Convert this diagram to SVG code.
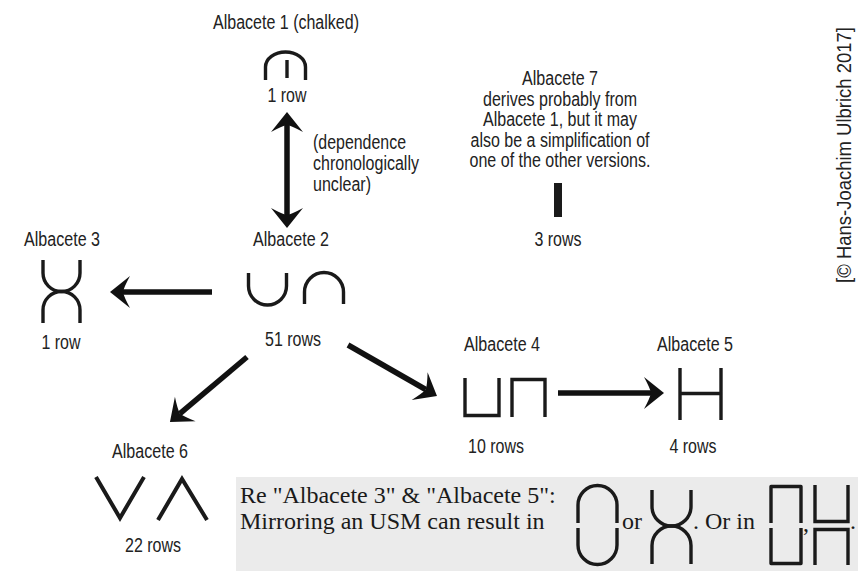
<svg xmlns="http://www.w3.org/2000/svg" width="864" height="573" viewBox="0 0 864 573">
<style>
.lbl{font-family:'Liberation Sans',Arial,sans-serif;font-size:19.5px;fill:#222;text-anchor:middle}
.left{text-anchor:start}
.ser{font-family:'Liberation Serif','Times New Roman',serif;font-size:24px;fill:#1a1a1a}
.g{fill:none;stroke:#1a1a1a;stroke-width:3.4;stroke-linecap:butt}
.g6{fill:none;stroke:#1a1a1a;stroke-width:4;stroke-linejoin:miter}
.arr{fill:none;stroke:#111;stroke-width:5.5;marker-end:url(#ah)}
</style>
<defs>
<marker id="ah" markerUnits="userSpaceOnUse" markerWidth="20" markerHeight="32" viewBox="0 0 20 32" refX="7" refY="16" orient="auto-start-reverse" overflow="visible">
<path d="M20,16 L0,0 Q6,11 7,16 Q6,21 0,32 Z" fill="#111"/>
</marker>
</defs>
<rect x="236" y="477" width="622" height="94" fill="#ebebeb"/>

<g id="albacete1">
<text class="lbl" x="286" y="29" textLength="146" lengthAdjust="spacingAndGlyphs">Albacete 1 (chalked)</text>
<path class="g" d="M265.5,80 V67 A20 15 0 0 1 305.5,67 V80"/>
<path class="g" d="M287,60 V78"/>
<text class="lbl" x="287" y="102" textLength="39" lengthAdjust="spacingAndGlyphs">1 row</text>
</g>

<g id="note-dependence">
<text class="lbl left" x="313" y="149" textLength="93" lengthAdjust="spacingAndGlyphs">(dependence</text>
<text class="lbl left" x="313" y="170" textLength="106" lengthAdjust="spacingAndGlyphs">chronologically</text>
<text class="lbl left" x="313" y="191" textLength="58" lengthAdjust="spacingAndGlyphs">unclear)</text>
</g>

<g id="albacete7">
<text class="lbl" x="560" y="85" textLength="76" lengthAdjust="spacingAndGlyphs">Albacete 7</text>
<text class="lbl" x="560" y="105.5" textLength="154" lengthAdjust="spacingAndGlyphs">derives probably from</text>
<text class="lbl" x="560" y="126" textLength="154" lengthAdjust="spacingAndGlyphs">Albacete 1, but it may</text>
<text class="lbl" x="560" y="146.5" textLength="179" lengthAdjust="spacingAndGlyphs">also be a simplification of</text>
<text class="lbl" x="560" y="167" textLength="181" lengthAdjust="spacingAndGlyphs">one of the other versions.</text>
<rect x="554" y="183" width="8" height="34" fill="#1a1a1a"/>
<text class="lbl" x="558" y="246" textLength="47" lengthAdjust="spacingAndGlyphs">3 rows</text>
</g>

<g id="copyright">
<text class="lbl" transform="translate(851,155) rotate(-90)" textLength="256" lengthAdjust="spacingAndGlyphs" style="font-size:20px">[© Hans-Joachim Ulbrich 2017]</text>
</g>

<g id="albacete3">
<text class="lbl" x="62" y="246" textLength="76" lengthAdjust="spacingAndGlyphs">Albacete 3</text>
<path class="g" d="M43,260 V273 A18.5 18.5 0 0 0 80,273 V260"/>
<path class="g" d="M43,323 V310 A18.5 18.5 0 0 1 80,310 V323"/>
<text class="lbl" x="61" y="349" textLength="39" lengthAdjust="spacingAndGlyphs">1 row</text>
</g>

<g id="albacete2">
<text class="lbl" x="291" y="246" textLength="76" lengthAdjust="spacingAndGlyphs">Albacete 2</text>
<path class="g" d="M248.5,273 V286 A19 19 0 0 0 286.5,286 V273"/>
<path class="g" d="M304.5,304 V292 A19.5 19.5 0 0 1 343.5,292 V304"/>
<text class="lbl" x="293" y="346" textLength="56" lengthAdjust="spacingAndGlyphs">51 rows</text>
</g>

<g id="albacete4">
<text class="lbl" x="502" y="351" textLength="76" lengthAdjust="spacingAndGlyphs">Albacete 4</text>
<path class="g" d="M465,378 V415.5 H499 V378"/>
<path class="g" d="M512,417 V379.5 H545 V417"/>
<text class="lbl" x="496" y="453" textLength="56" lengthAdjust="spacingAndGlyphs">10 rows</text>
</g>

<g id="albacete5">
<text class="lbl" x="695" y="351" textLength="76" lengthAdjust="spacingAndGlyphs">Albacete 5</text>
<path class="g" d="M680,368 V420 M721,368 V420 M680,393.5 H721"/>
<text class="lbl" x="693" y="453" textLength="47" lengthAdjust="spacingAndGlyphs">4 rows</text>
</g>

<g id="albacete6">
<text class="lbl" x="150" y="458" textLength="76" lengthAdjust="spacingAndGlyphs">Albacete 6</text>
<path class="g6" d="M96,477 L120,518 L144,477"/>
<path class="g6" d="M158,520 L182,479 L207,520"/>
<text class="lbl" x="153" y="552" textLength="56" lengthAdjust="spacingAndGlyphs">22 rows</text>
</g>

<g id="connectors">
<line class="arr" x1="287" y1="125" x2="287" y2="215" marker-start="url(#ah)"/>
<line class="arr" x1="212" y1="292" x2="123" y2="292"/>
<line class="arr" x1="247" y1="357" x2="179.9" y2="413.6"/>
<line class="arr" x1="348" y1="345" x2="425.7" y2="389.5"/>
<line class="arr" x1="558" y1="393" x2="651" y2="393"/>
</g>

<g id="note-mirroring">
<text class="ser" x="240" y="503">Re "Albacete 3" &amp; "Albacete 5":</text>
<text class="ser" x="240" y="529">Mirroring an USM can result in</text>
<path class="g" d="M578,523 V505 A19.5 19.5 0 0 1 617,505 V523"/>
<path class="g" d="M578,528 V545 A19.5 19.5 0 0 0 617,545 V528"/>
<text class="ser" x="622" y="529">or</text>
<path class="g" d="M652,490 V506.5 A19.5 19.5 0 0 0 691,506.5 V490"/>
<path class="g" d="M652,564 V545.5 A19.5 19.5 0 0 1 691,545.5 V564"/>
<text class="ser" x="693" y="529">. Or in</text>
<path class="g" d="M771,523 V486.5 H801 V523" stroke-linejoin="round"/>
<path class="g" d="M771,528 V563.5 H801 V528" stroke-linejoin="round"/>
<text class="ser" x="803" y="531">,</text>
<path class="g" d="M815,485 V521.5 H848 V485"/>
<path class="g" d="M815,565 V529.5 H848 V565"/>
<text class="ser" x="850" y="529">.</text>
</g>
</svg>
